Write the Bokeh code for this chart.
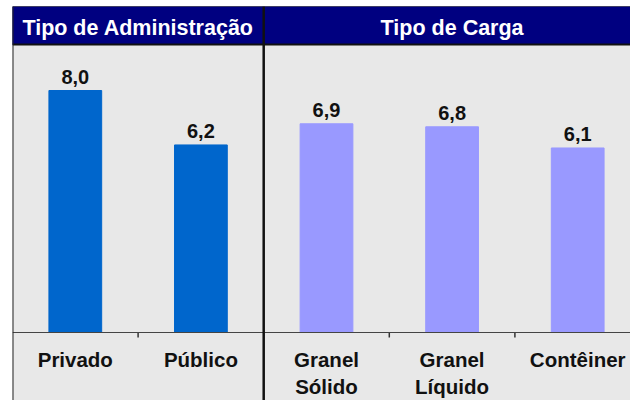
from bokeh.plotting import figure
from bokeh.models import Range1d, Span, ColumnDataSource
from bokeh.core.properties import value
from bokeh.embed import file_html
from bokeh.resources import INLINE

# ---- data ----
groups = ["Tipo de Administração", "Tipo de Carga"]
categories = ["Privado", "Público", "Granel\nSólido", "Granel\nLíquido", "Contêiner"]
values = [8.0, 6.2, 6.9, 6.8, 6.1]
group_index = [0, 0, 1, 1, 1]
group_colors = ["#0066CC", "#9999FF"]

# ---- layout constants (pixels from canvas top-left) ----
W, H = 630, 400
LEFT = 12
TOP = 6
PX_PER_CAT = 125.6
PX_PER_UNIT = 30.25
BASE_PX = 332
HEADER_BOTTOM_PX = 44
HEADER_TEXT_PX = 27
CAT_TEXT_TOP_PX = 347
FONT = value("Liberation Sans")


def ydat(px):
    return (BASE_PX - px) / PX_PER_UNIT


frame_w = W - LEFT
y_top = ydat(TOP)
y_bot = ydat(H)
x_end = frame_w / PX_PER_CAT

p = figure(width=W, height=H, output_backend="svg", toolbar_location=None,
           x_range=Range1d(0, x_end), y_range=Range1d(y_bot, y_top),
           min_border_left=LEFT, min_border_right=0, min_border_top=TOP, min_border_bottom=0)
p.axis.visible = False
p.grid.visible = False
p.outline_line_color = None
p.background_fill_color = "#E8E8E8"
p.border_fill_color = "white"

n = len(categories)
xs = [i + 0.5 for i in range(n)]
bar_colors = [group_colors[g] for g in group_index]
labels = [f"{v:.1f}".replace(".", ",") for v in values]

src = ColumnDataSource(dict(x=xs, top=values, color=bar_colors, label=labels, cat=categories))

# header band
header_bottom = ydat(HEADER_BOTTOM_PX)
p.quad(left=0, right=x_end, bottom=header_bottom, top=y_top, color="#000080")

# bars
p.vbar(x="x", top="top", width=0.42, bottom=0, color="color", source=src)

# value labels
p.text(x="x", y="top", text="label", source=src, text_align="center",
       text_baseline="bottom", y_offset=-7, text_font=FONT,
       text_font_style="bold", text_font_size="20px", text_color="#111111")

# category labels
p.text(x="x", y=ydat(CAT_TEXT_TOP_PX), text="cat", source=src,
       text_align="center", text_baseline="top", text_font=FONT,
       text_font_style="bold", text_font_size="20.5px", text_color="#111111",
       text_line_height=1.2)

# group titles
gx = []
for g in range(len(groups)):
    idx = [i for i, gi in enumerate(group_index) if gi == g]
    gx.append((min(idx) + max(idx) + 1) / 2)
p.text(x=gx, y=ydat(HEADER_TEXT_PX), text=groups,
       text_align="center", text_baseline="middle", text_font=FONT,
       text_font_style="bold", text_font_size="21.5px", text_color="white")

# tick marks at category boundaries (not at group divider)
boundaries = [i for i in range(1, n) if group_index[i] == group_index[i - 1]]
tick_len = 5 / PX_PER_UNIT
p.segment(x0=boundaries, y0=[0] * len(boundaries), x1=boundaries,
          y1=[-tick_len] * len(boundaries), line_color="#333333", line_width=1.5)

# lines
p.add_layout(Span(location=0, dimension="width", line_color="#444444", line_width=1))
p.add_layout(Span(location=header_bottom, dimension="width", line_color="#111111", line_width=2))
p.add_layout(Span(location=y_top, dimension="width", line_color="#222222", line_width=1))
p.add_layout(Span(location=0, dimension="height", line_color="#222222", line_width=2))
dividers = [i for i in range(1, n) if group_index[i] != group_index[i - 1]]
for d in dividers:
    p.add_layout(Span(location=d, dimension="height", line_color="#111111", line_width=2.5))

open("out.html", "w").write(file_html(p, INLINE))
